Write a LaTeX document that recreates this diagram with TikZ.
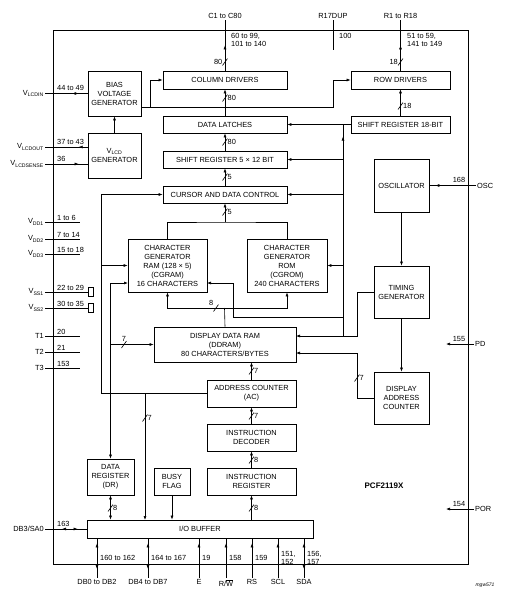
\documentclass[tikz,border=0pt]{standalone}
\usepackage{fontspec}
\setmainfont{Liberation Sans}
\usetikzlibrary{arrows.meta, calc, decorations.markings}

\tikzset{
  blk/.style={draw, line width=0.7pt, inner sep=1pt, align=center, font=\fontsize{7.4}{9}\selectfont},
  wire/.style={line width=0.6pt},
  arr/.style={wire, -{Latex[length=4pt,width=3pt]}},
  dbl/.style={wire, {Latex[length=4pt,width=3pt]}-{Latex[length=4pt,width=3pt]}},
  fwd/.style={postaction={decorate, decoration={markings, mark=at position #1 with {\arrow{Latex[length=4pt,width=3pt]}}}}},
  bwd/.style={postaction={decorate, decoration={markings, mark=at position #1 with {\arrowreversed{Latex[length=4pt,width=3pt]}}}}},
  lbl/.style={font=\fontsize{7.4}{8.8}\selectfont, inner sep=1pt},
}
\newcommand{\busw}[3]{%
  \draw[wire] ($(#1)+(-2.5,3.5)$) -- ($(#1)+(2.5,-3.5)$);
  \node[lbl,#2=1.5pt] at (#1) {#3};}

\begin{document}
\begin{tikzpicture}[x=1pt, y=-1pt]
        \useasboundingbox (0,0) rectangle (508,592);
        %contorno chip
        \draw[line width=0.7pt] (53,30) rectangle (468,564);
        %blocchi
        \node[blk, minimum width=53pt, minimum height=45pt] (bias) at (114.5,93.5) {BIAS\\VOLTAGE\\GENERATOR};
        \node[blk, minimum width=53pt, minimum height=45pt] (vlcd) at (114.5,155.5) {V\textsubscript{LCD}\\GENERATOR};
        \node[blk, minimum width=124pt, minimum height=18pt] (coldrv) at (225,80) {COLUMN DRIVERS};
        \node[blk, minimum width=99pt, minimum height=18pt] (rowdrv) at (400.5,80) {ROW DRIVERS};
        \node[blk, minimum width=124pt, minimum height=17pt] (latch) at (225,124.5) {DATA LATCHES};
        \node[blk, minimum width=99pt, minimum height=17pt] (sr18) at (400.5,124.5) {SHIFT REGISTER 18-BIT};
        \node[blk, minimum width=124pt, minimum height=17pt] (sr512) at (225,159.5) {SHIFT REGISTER 5 × 12 BIT};
        \node[blk, minimum width=124pt, minimum height=17pt] (cursor) at (225,194.5) {CURSOR AND DATA CONTROL};
        \node[blk, minimum width=55pt, minimum height=53pt] (osc) at (401.5,185.5) {OSCILLATOR};
        \node[blk, minimum width=55pt, minimum height=52pt] (timing) at (401.5,292) {TIMING\\GENERATOR};
        \node[blk, minimum width=55pt, minimum height=52pt] (dac) at (401.5,398) {DISPLAY\\ADDRESS\\COUNTER};
        \node[blk, minimum width=79pt, minimum height=53pt] (cgram) at (167.5,265.5) {CHARACTER\\GENERATOR\\RAM (128 × 5)\\(CGRAM)\\16 CHARACTERS};
        \node[blk, minimum width=80pt, minimum height=53pt] (cgrom) at (287,265.5) {CHARACTER\\GENERATOR\\ROM\\(CGROM)\\240 CHARACTERS};
        \node[blk, minimum width=142pt, minimum height=35pt] (ddram) at (225,344.5) {DISPLAY DATA RAM\\(DDRAM)\\80 CHARACTERS/BYTES};
        \node[blk, minimum width=89pt, minimum height=27pt] (ac) at (251.5,393.5) {ADDRESS COUNTER\\(AC)};
        \node[blk, minimum width=89pt, minimum height=27pt] (idec) at (251.5,437.5) {INSTRUCTION\\DECODER};
        \node[blk, minimum width=89pt, minimum height=27pt] (ireg) at (251.5,481.5) {INSTRUCTION\\REGISTER};
        \node[blk, minimum width=47pt, minimum height=36pt] (dr) at (110.5,477) {DATA\\REGISTER\\(DR)};
        \node[blk, minimum width=36pt, minimum height=27pt] (busy) at (172,481.5) {BUSY\\FLAG};
        \node[blk, minimum width=226pt, minimum height=18pt] (iobuf) at (200,529) {I/O BUFFER};
        \node[font=\bfseries\fontsize{8}{9}\selectfont] (chip) at (384,486) {PCF2119X};
        \node[font=\itshape\fontsize{5}{6}\selectfont] (code) at (485,585) {mgw571};
        %uscite in alto
        \coordinate (cpin) at (225,20);
        \coordinate (rdup) at (333,20);
        \coordinate (rdupend) at (333,50);
        \coordinate (rpin) at (400.5,20);
        \draw[wire, fwd=0.5] (coldrv.north) -- (cpin);
        \draw[wire] (rdup) -- (rdupend);
        \draw[wire, fwd=0.5] (rowdrv.north) -- (rpin);
        \node[lbl, above] (cname) at (cpin) {C1 to C80};
        \node[lbl, above] (dupname) at (rdup) {R17DUP};
        \node[lbl, above] (rname) at (rpin) {R1 to R18};
        \node[lbl, anchor=west, align=left] (cnum) at (230,40) {60 to 99,\\101 to 140};
        \node[lbl, anchor=west] (dupnum) at (338,36) {100};
        \node[lbl, anchor=west, align=left] (rnum) at (406,40) {51 to 59,\\141 to 149};
        \busw{225,62}{left}{80}
        \busw{400.5,62}{left}{18}
        %tensioni
        \coordinate (bout) at (141,107);
        \draw[arr] (bout) -- (333,107) |- (rowdrv.west);
        \draw[arr] (150,107) |- (coldrv.west);
        \draw[arr] (vlcd) -- (bias);
        %catena colonne e righe
        \draw[arr] (latch) -- (coldrv);
        \draw[arr] (sr512) -- (latch);
        \draw[arr] (cursor) -- (sr512);
        \draw[arr] (sr18) -- (rowdrv);
        \busw{225,98}{right}{80}
        \busw{225,142}{right}{80}
        \busw{225,177}{right}{5}
        \busw{400.5,106}{right}{18}
        %generatori di caratteri
        \draw[wire] (cgram.north) |- (225,222) -| (cgrom.north);
        \draw[arr] (225,222) -- (cursor.south);
        \busw{225,212}{right}{5}
        \coordinate (cgb) at (224.5,308);
        \draw[wire] (ddram.north) -- (cgb);
        \draw[arr] (cgb) -| (cgram.south);
        \draw[arr] (cgb) -| (cgrom.south);
        \busw{216,308}{above left}{8}
        %clock
        \coordinate (clk) at (343,336);
        \draw[wire, fwd=-12pt] (clk) -- (343,124.5);
        \draw[arr] (sr18.west) -- (latch.east);
        \draw[arr] (343,159.5) -- (sr512.east);
        \draw[arr] (343,194.5) -- (cursor.east);
        \draw[arr] (343,265.5) -- (cgrom.east);
        \draw[arr] (343,317) -| (233,283) -- (207,283);
        \draw[arr] (timing.west) -- (357,292) |- (296,336);
        \draw[arr] (dac.west) -- (357,398) |- (296,353);
        \busw{357,378}{right}{7}
        \draw[arr] (osc) -- (timing);
        \draw[arr] (timing) -- (dac);
        %contatore indirizzi e registri
        \draw[arr] (ac.west) -| (101,194.5) -- (cursor.west);
        \draw[arr] (101,265.5) -- (cgram.west);
        \draw[arr] (145,393.5) -- (145,520);
        \busw{145,418}{right}{7}
        \draw[arr] (ac.north) -- (ac.north |- ddram.south);
        \busw{251.5,371}{right}{7}
        \draw[arr] (idec) -- (ac);
        \busw{251.5,416}{right}{7}
        \draw[arr] (ireg) -- (idec);
        \busw{251.5,460}{right}{8}
        \draw[arr] (ireg.south |- iobuf.north) -- (ireg.south);
        \busw{251.5,508}{right}{8}
        \draw[dbl] (dr.south) -- (dr.south |- iobuf.north);
        \busw{110.5,508}{right}{8}
        \draw[arr] (busy.south) -- (busy.south |- iobuf.north);
        \draw[dbl] (128,283) -| (dr.north);
        \draw[arr] (110.5,344.5) -- (ddram.west);
        \busw{124,344.5}{above}{7}
        %pin a sinistra
        \coordinate (vin) at (45,93.5);
        \coordinate (vout) at (45,147);
        \coordinate (vsense) at (45,164);
        \draw[wire, fwd=-9pt] (vin) -- (bias.west);
        \draw[wire, bwd=-9pt] (vout) -- (vlcd.west |- vout);
        \draw[wire, fwd=-9pt] (vsense) -- (vlcd.west |- vsense);
        \node[lbl, left] (vinname) at (vin) {V\textsubscript{LCDIN}};
        \node[lbl, left] (voutname) at (vout) {V\textsubscript{LCDOUT}};
        \node[lbl, left] (vsensename) at (vsense) {V\textsubscript{LCDSENSE}};
        \node[lbl, anchor=south west] (vinnum) at (56,92) {44 to 49};
        \node[lbl, anchor=south west] (voutnum) at (56,145.5) {37 to 43};
        \node[lbl, anchor=south west] (vsensenum) at (56,162.5) {36};
        \foreach \y/\name/\num in {222/V\textsubscript{DD1}/1 to 6, 239/V\textsubscript{DD2}/7 to 14, 254/V\textsubscript{DD3}/15 to 18, 336/T1/20, 352/T2/21, 368/T3/153} {
          \coordinate (p\y) at (45,\y);
          \draw[wire] (p\y) -- (80,\y);
          \node[lbl, left] at (p\y) {\name};
          \node[lbl, anchor=south west] at (56,\y-0.5) {\num};
        }
        \foreach \y/\name/\num in {292/V\textsubscript{SS1}/22 to 29, 308/V\textsubscript{SS2}/30 to 35} {
          \coordinate (p\y) at (45,\y);
          \draw[wire] (p\y) -- (88,\y);
          \draw[wire] (88,\y-4.5) rectangle (93,\y+4.5);
          \node[lbl, left] at (p\y) {\name};
          \node[lbl, anchor=south west] at (56,\y-0.5) {\num};
        }
        \coordinate (sa0) at (45,529);
        \draw[wire, bwd=17pt, fwd=-9pt] (sa0) -- (iobuf.west);
        \node[lbl, left] (sa0name) at (sa0) {DB3/SA0};
        \node[lbl, anchor=south west] (sa0num) at (56,527.5) {163};
        %pin a destra
        \coordinate (oscpin) at (476,185.5);
        \draw[wire, fwd=-6pt] (oscpin) -- (osc.east);
        \node[lbl, right] (oscname) at (oscpin) {OSC};
        \node[lbl, above] (oscnum) at (459,184) {168};
        \coordinate (pdpin) at (474,344);
        \coordinate (pdend) at (446,344);
        \draw[arr] (pdpin) -- (pdend);
        \node[lbl, right] (pdname) at (pdpin) {PD};
        \node[lbl, above] (pdnum) at (459,343) {155};
        \coordinate (porpin) at (474,509);
        \coordinate (porend) at (446,509);
        \draw[arr] (porpin) -- (porend);
        \node[lbl, right] (porname) at (porpin) {POR};
        \node[lbl, above] (pornum) at (459,508) {154};
        %pin in basso
        \foreach \x/\name/\num in {97/DB0 to DB2/160 to 162, 148/DB4 to DB7/164 to 167, 304/SDA/{156,\\157}} {
          \coordinate (b\x) at (\x,578);
          \draw[wire, bwd=5pt, fwd=-9pt] (iobuf.south -| b\x) -- (b\x);
          \node[lbl, below] at (b\x) {\name};
          \node[lbl, anchor=west, align=left] at (\x+2,558) {\num};
        }
        \foreach \x/\name/\num in {199/E/19, 226/{R/$\overline{\mbox{W}}$}/158, 252/RS/159, 278/SCL/{151,\\152}} {
          \coordinate (b\x) at (\x,578);
          \draw[wire, fwd=-5pt] (b\x) -- (iobuf.south -| b\x);
          \node[lbl, below] at (b\x) {\name};
          \node[lbl, anchor=west, align=left] at (\x+2,558) {\num};
        }
\end{tikzpicture}
\end{document}
